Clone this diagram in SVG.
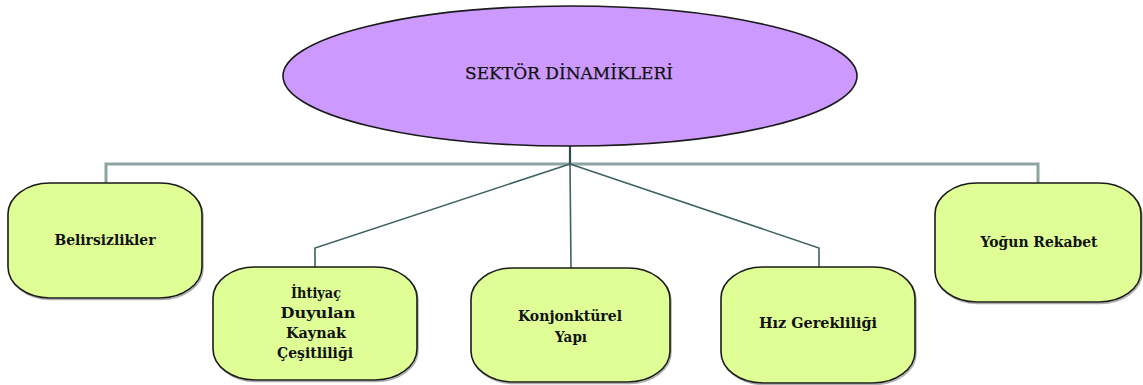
<svg xmlns="http://www.w3.org/2000/svg" width="1143" height="385" viewBox="0 0 1143 385">
  <style>
    .hub { fill: #CC99FF; stroke: #1a1a1a; stroke-width: 1.6; }
    .box { fill: #DFFF96; stroke: #1a1a1a; stroke-width: 1.6; }
    .shade { fill: none; stroke: #6b6b6b; stroke-width: 1.5; opacity: 0.55; }
    .lbl { font-family: "DejaVu Serif", "Liberation Serif", serif; font-size: 15.5px; font-weight: bold; fill: #111; text-anchor: middle; }
    .hubl { font-family: "DejaVu Serif", "Liberation Serif", serif; font-size: 16px; fill: #111; text-anchor: middle; stroke: #111; stroke-width: 0.25; }
    .bus { fill: none; stroke: #8CA5A2; stroke-width: 3; }
    .link { fill: none; stroke: #3E6262; stroke-width: 1.6; }
    .stem { fill: none; stroke: #2E4C4C; stroke-width: 2.2; }
  </style>
  <rect width="1143" height="385" fill="#ffffff"/>

  <!-- connectors -->
  <g id="connectors">
    <polyline class="bus" points="106,183 106,164 1038,164 1038,183"/>
    <line class="stem" x1="570" y1="146" x2="570" y2="164"/>
    <polyline class="link" points="570,164 315,248 315,267"/>
    <polyline class="link" points="570,164 571,268"/>
    <polyline class="link" points="570,164 819,248 819,267"/>
  </g>

  <!-- central node -->
  <g id="sektor-dinamikleri">
    <ellipse class="hub" cx="570" cy="76" rx="287" ry="70"/>
    <text class="hubl" x="569" y="79" textLength="208" lengthAdjust="spacingAndGlyphs">SEKTÖR DİNAMİKLERİ</text>
  </g>

  <g id="belirsizlikler">
    <rect class="shade" x="9" y="184.5" width="194" height="115" rx="42" ry="31"/>
    <rect class="box" x="8" y="183" width="194" height="115" rx="42" ry="31"/>
    <text class="lbl" x="105" y="245" textLength="101" lengthAdjust="spacingAndGlyphs">Belirsizlikler</text>
  </g>

  <g id="ihtiyac-duyulan-kaynak">
    <rect class="shade" x="214" y="268.5" width="204" height="113" rx="42" ry="31"/>
    <rect class="box" x="213" y="267" width="204" height="113" rx="42" ry="31"/>
    <text class="lbl" x="316" y="298" textLength="50" lengthAdjust="spacingAndGlyphs">İhtiyaç</text>
    <text class="lbl" x="318" y="318" textLength="75" lengthAdjust="spacingAndGlyphs">Duyulan</text>
    <text class="lbl" x="316" y="338" textLength="60" lengthAdjust="spacingAndGlyphs">Kaynak</text>
    <text class="lbl" x="315" y="358" textLength="76" lengthAdjust="spacingAndGlyphs">Çeşitliliği</text>
  </g>

  <g id="konjonkturel-yapi">
    <rect class="shade" x="472" y="269.5" width="199" height="114" rx="42" ry="31"/>
    <rect class="box" x="471" y="268" width="199" height="114" rx="42" ry="31"/>
    <text class="lbl" x="570" y="321" textLength="104" lengthAdjust="spacingAndGlyphs">Konjonktürel</text>
    <text class="lbl" x="571" y="342" textLength="32" lengthAdjust="spacingAndGlyphs">Yapı</text>
  </g>

  <g id="hiz-gerekliligi">
    <rect class="shade" x="722" y="268.5" width="194" height="116" rx="42" ry="31"/>
    <rect class="box" x="721" y="267" width="194" height="116" rx="42" ry="31"/>
    <text class="lbl" x="818" y="328" textLength="118" lengthAdjust="spacingAndGlyphs">Hız Gerekliliği</text>
  </g>

  <g id="yogun-rekabet">
    <rect class="shade" x="936" y="184.5" width="206" height="119" rx="42" ry="31"/>
    <rect class="box" x="935" y="183" width="206" height="119" rx="42" ry="31"/>
    <text class="lbl" x="1039" y="247" textLength="117" lengthAdjust="spacingAndGlyphs">Yoğun Rekabet</text>
  </g>
</svg>
